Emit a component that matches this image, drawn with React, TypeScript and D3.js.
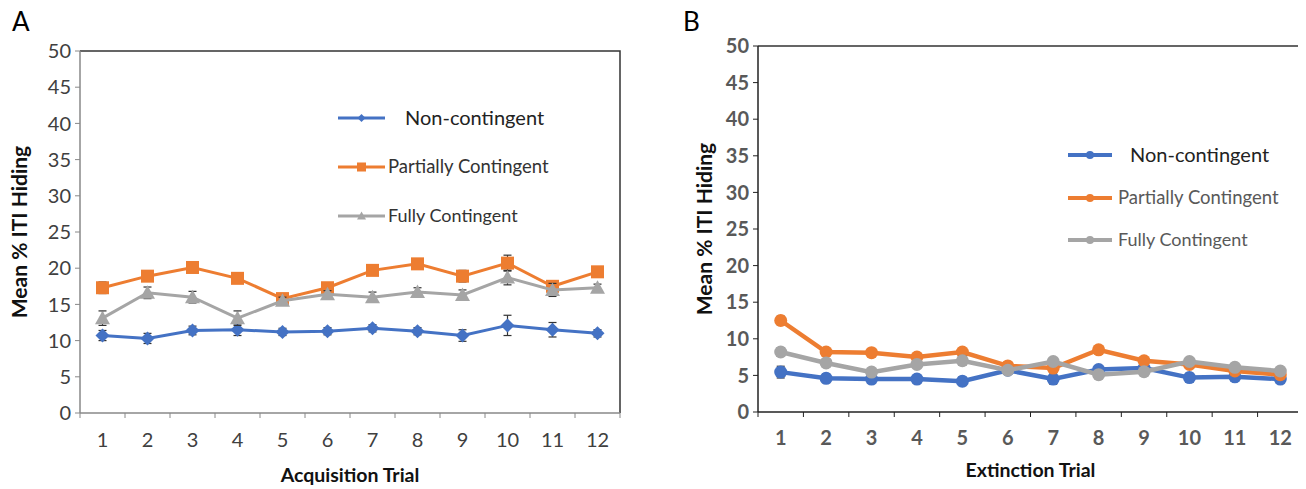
import React from "react";
import * as d3 from "d3";

const trials = ["1", "2", "3", "4", "5", "6", "7", "8", "9", "10", "11", "12"];
const yTicks = [0, 5, 10, 15, 20, 25, 30, 35, 40, 45, 50];
const seriesNames = ["Non-contingent", "Partially Contingent", "Fully Contingent"];
const seriesColors = ["#4472C4", "#ED7D31", "#A5A5A5"];

const acqNon = [10.7, 10.3, 11.4, 11.5, 11.2, 11.3, 11.7, 11.3, 10.7, 12.1, 11.5, 11.0];
const acqPartial = [17.3, 18.9, 20.1, 18.6, 15.8, 17.3, 19.7, 20.6, 18.9, 20.7, 17.5, 19.5];
const acqFully = [13.1, 16.6, 16.0, 13.1, 15.5, 16.4, 16.0, 16.7, 16.3, 18.7, 17.0, 17.3];
const acqNonErr = [0.7, 0.7, 0.6, 0.8, 0.5, 0.5, 0.5, 0.5, 0.8, 1.4, 1.0, 0.5];
const acqPartialErr = [0.8, 0.5, 0.5, 0.6, 0.4, 0.5, 0.5, 0.5, 0.8, 1.1, 0.5, 0.5];
const acqFullyErr = [1.0, 0.8, 0.8, 1.0, 0.5, 0.5, 0.7, 0.6, 0.7, 1.0, 0.9, 0.5];

const extNon = [5.45, 4.6, 4.5, 4.5, 4.2, 5.7, 4.5, 5.8, 6.0, 4.7, 4.8, 4.5];
const extPartial = [12.5, 8.2, 8.1, 7.5, 8.2, 6.3, 6.0, 8.5, 7.0, 6.5, 5.6, 5.1];
const extFully = [8.2, 6.7, 5.45, 6.5, 7.0, 5.7, 6.9, 5.1, 5.5, 6.9, 6.1, 5.6];
const extNonErr = [0.8, 0.6, 0.6, 0.6, 0.6, 0.5, 0.7, 0.5, 0.6, 0.6, 0.6, 0.5];
const extPartialErr = [0.6, 0.5, 0.5, 0.5, 0.5, 0.5, 0.5, 0.5, 0.5, 0.5, 0.5, 0.5];
const extFullyErr = [0.6, 0.5, 0.5, 0.5, 0.6, 0.5, 0.5, 0.5, 0.5, 0.5, 0.5, 0.5];

const FONT = "Lato, 'Open Sans', sans-serif";

type PanelProps = {
  letter: string;
  letterX: number;
  left: number;
  right: number;
  top: number;
  bottom: number;
  values: number[][];
  errors: number[][];
  xTitle: string;
  xTitleY: number;
  yTitleX: number;
  tickLabelY: number;
  markerKind: "excel" | "circle";
  legend: { lineX1: number; lineX2: number; ys: number[]; textX: number[]; sizes: number[] };
  axisColor: string;
  tickBold: boolean;
  lineWidth: number;
};

function Marker({ kind, idx, x, y, color }: { kind: string; idx: number; x: number; y: number; color: string }) {
  if (kind === "circle") {
    return <circle cx={x} cy={y} r={6.5} fill={color} />;
  }
  if (idx === 0) {
    const s = 7;
    return <path d={`M${x},${y - s}L${x + s},${y}L${x},${y + s}L${x - s},${y}Z`} fill={color} />;
  }
  if (idx === 1) {
    const s = 6.5;
    return <rect x={x - s} y={y - s} width={2 * s} height={2 * s} fill={color} />;
  }
  const s = 7.5;
  return <path d={`M${x},${y - s}L${x + s},${y + s * 0.8}L${x - s},${y + s * 0.8}Z`} fill={color} />;
}

function LegendMarker({ kind, idx, x, y, color }: { kind: string; idx: number; x: number; y: number; color: string }) {
  if (kind === "circle") return <circle cx={x} cy={y} r={4} fill={color} />;
  if (idx === 0) {
    const s = 4;
    return <path d={`M${x},${y - s}L${x + s},${y}L${x},${y + s}L${x - s},${y}Z`} fill={color} />;
  }
  if (idx === 1) return <rect x={x - 4.5} y={y - 4.5} width={9} height={9} fill={color} />;
  return <path d={`M${x},${y - 4.5}L${x + 4.5},${y + 3.5}L${x - 4.5},${y + 3.5}Z`} fill={color} />;
}

function Panel(p: PanelProps) {
  const x = d3.scaleBand<string>().domain(trials).range([p.left, p.right]);
  const y = d3.scaleLinear().domain([0, 50]).range([p.bottom, p.top]);
  const cx = (t: string) => (x(t) as number) + x.bandwidth() / 2;
  const line = d3
    .line<number>()
    .x((_, i) => cx(trials[i]))
    .y((v) => y(v));
  const tickColor = p.tickBold ? "#595959" : "#404040";
  return (
    <g>
      <text x={p.letterX} y={31} fontFamily={FONT} fontSize={26} fill="#000">
        {p.letter}
      </text>
      <path d={`M${p.left},${p.top}H${p.right}V${p.bottom}`} fill="none" stroke="#333" strokeWidth={1.5} />
      <line x1={p.left} x2={p.left} y1={p.top} y2={p.bottom} stroke={p.axisColor} strokeWidth={1.5} />
      <line x1={p.left} x2={p.right} y1={p.bottom} y2={p.bottom} stroke={p.axisColor} strokeWidth={1.5} />
      {yTicks.map((t) => (
        <g key={t}>
          <line x1={p.left - 5} x2={p.left} y1={y(t)} y2={y(t)} stroke={p.axisColor} strokeWidth={1} />
          <text
            x={p.left - 9}
            y={y(t)}
            dy="0.36em"
            textAnchor="end"
            fontFamily={FONT}
            fontSize={20}
            fontWeight={p.tickBold ? "bold" : "normal"}
            fill={tickColor}
          >
            {t}
          </text>
        </g>
      ))}
      {trials.map((t, i) => (
        <g key={t}>
          <line x1={x(t) as number} x2={x(t) as number} y1={p.bottom} y2={p.bottom + 5} stroke={p.axisColor} strokeWidth={1} />
          {i === trials.length - 1 && (
            <line x1={p.right} x2={p.right} y1={p.bottom} y2={p.bottom + 5} stroke={p.axisColor} strokeWidth={1} />
          )}
          <text
            x={cx(t)}
            y={p.tickLabelY}
            textAnchor="middle"
            fontFamily={FONT}
            fontSize={20}
            fontWeight={p.tickBold ? "bold" : "normal"}
            fill={tickColor}
          >
            {t}
          </text>
        </g>
      ))}
      <text
        transform={`translate(${p.yTitleX},${(p.top + p.bottom) / 2}) rotate(-90)`}
        textAnchor="middle"
        fontFamily={FONT}
        fontSize={21}
        fontWeight="bold"
        fill="#111"
      >
        Mean % ITI Hiding
      </text>
      <text
        x={(p.left + p.right) / 2}
        y={p.xTitleY}
        textAnchor="middle"
        fontFamily={FONT}
        fontSize={19.5}
        fontWeight="bold"
        fill="#111"
      >
        {p.xTitle}
      </text>
      {p.values.map((vals, si) => (
        <g key={si}>
          {vals.map((v, i) => {
            const e = p.errors[si][i];
            const xx = cx(trials[i]);
            return (
              <g key={i} stroke="#333" strokeWidth={1.2}>
                <line x1={xx} x2={xx} y1={y(v + e)} y2={y(v - e)} />
                <line x1={xx - 4} x2={xx + 4} y1={y(v + e)} y2={y(v + e)} />
                <line x1={xx - 4} x2={xx + 4} y1={y(v - e)} y2={y(v - e)} />
              </g>
            );
          })}
          <path d={line(vals) || ""} fill="none" stroke={seriesColors[si]} strokeWidth={p.lineWidth} />
          {vals.map((v, i) => (
            <Marker key={i} kind={p.markerKind} idx={si} x={cx(trials[i])} y={y(v)} color={seriesColors[si]} />
          ))}
        </g>
      ))}
      {seriesNames.map((n, si) => (
        <g key={n}>
          <line
            x1={p.legend.lineX1}
            x2={p.legend.lineX2}
            y1={p.legend.ys[si]}
            y2={p.legend.ys[si]}
            stroke={seriesColors[si]}
            strokeWidth={p.markerKind === "circle" ? 4 : 3}
          />
          <LegendMarker
            kind={p.markerKind}
            idx={si}
            x={(p.legend.lineX1 + p.legend.lineX2) / 2}
            y={p.legend.ys[si]}
            color={seriesColors[si]}
          />
          <text
            x={p.legend.textX[si]}
            y={p.legend.ys[si]}
            dy="0.35em"
            fontFamily={FONT}
            fontSize={p.legend.sizes[si]}
            fill={si === 0 ? "#222" : p.markerKind === "circle" ? "#595959" : "#333"}
          >
            {n}
          </text>
        </g>
      ))}
    </g>
  );
}

export default function App() {
  return (
    <svg width={1306} height={489} style={{ display: "block", margin: "-8px 0 0 -8px" }}>
      <Panel
        letter="A"
        letterX={12}
        left={80}
        right={620}
        top={51}
        bottom={413}
        values={[acqNon, acqPartial, acqFully]}
        errors={[acqNonErr, acqPartialErr, acqFullyErr]}
        xTitle="Acquisition Trial"
        xTitleY={482}
        yTitleX={27}
        tickLabelY={447}
        markerKind="excel"
        legend={{ lineX1: 338, lineX2: 385, ys: [118, 167, 216], textX: [405, 388, 388], sizes: [20, 18.5, 18] }}
        axisColor="#888"
        tickBold={false}
        lineWidth={3}
      />
      <Panel
        letter="B"
        letterX={683}
        left={758}
        right={1303}
        top={46}
        bottom={412}
        values={[extNon, extPartial, extFully]}
        errors={[extNonErr, extPartialErr, extFullyErr]}
        xTitle="Extinction Trial"
        xTitleY={477}
        yTitleX={712}
        tickLabelY={445}
        markerKind="circle"
        legend={{ lineX1: 1068, lineX2: 1112, ys: [155, 198, 240], textX: [1130, 1118, 1118], sizes: [20, 18.5, 18] }}
        axisColor="#222"
        tickBold={true}
        lineWidth={4.5}
      />
    </svg>
  );
}
